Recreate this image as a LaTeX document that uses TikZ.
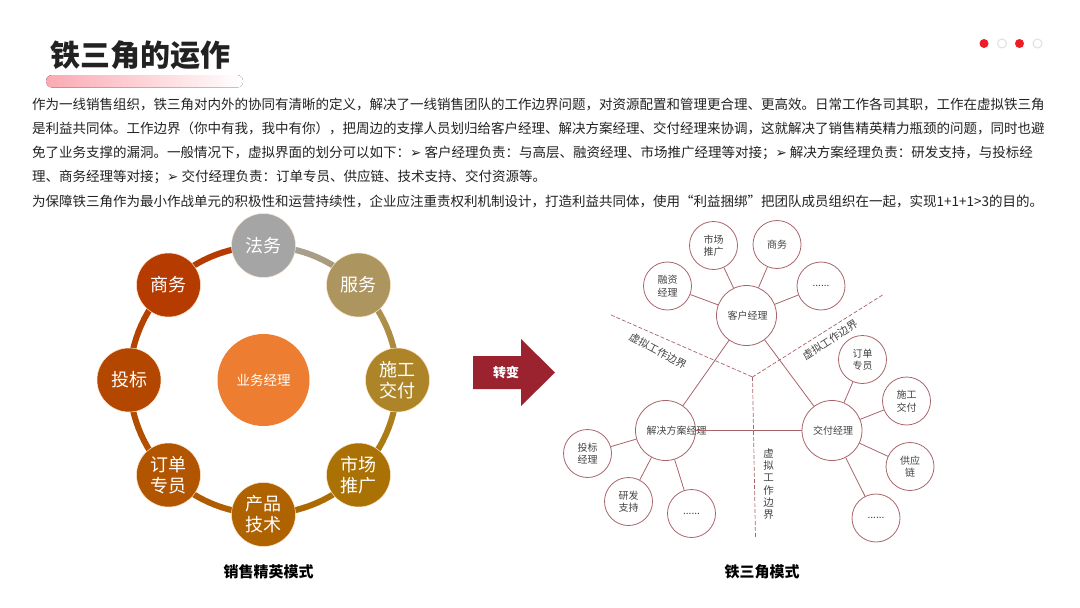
\documentclass[tikz,border=0pt]{standalone}
\usepackage{fontspec}
\setmainfont{Noto Sans CJK SC}
\newfontfamily\symfont{DejaVu Sans}
\usetikzlibrary{shapes.geometric,calc}
\definecolor{ink}{HTML}{222222}
\definecolor{line}{HTML}{A9646B}
\definecolor{redd}{HTML}{EE1C25}
\definecolor{ca}{HTML}{A5A5A5}\definecolor{cb}{HTML}{AD9560}\definecolor{cc}{HTML}{AD8528}
\definecolor{cd}{HTML}{AA7204}\definecolor{ce}{HTML}{AE6200}\definecolor{cf}{HTML}{B15500}
\definecolor{cg}{HTML}{B34700}\definecolor{ch}{HTML}{B63B00}
\definecolor{mgrc}{HTML}{ED7D31}\definecolor{arrowc}{HTML}{9B2330}\definecolor{barc}{HTML}{FBA9B2}
\tikzset{
 para/.style={anchor=west,inner sep=0pt,text=ink,font=\fontsize{13.5}{13.5}\selectfont},
 ringnode/.style={circle,minimum size=64pt,inner sep=0pt,draw=white!80!orange,line width=.5pt,text=white,align=center,font=\fontsize{18}{21}\selectfont},
 bigc/.style={circle,minimum size=60pt,inner sep=0pt,draw=line,line width=.8pt,fill=white,text=ink!85,align=center,font=\fontsize{10}{12.5}\selectfont,text width=38pt},
 smallc/.style={circle,minimum size=48pt,inner sep=0pt,draw=line,line width=.8pt,fill=white,text=ink!85,align=center,font=\fontsize{10}{12.5}\selectfont},
 conn/.style={draw=line,line width=.8pt},
 bound/.style={draw=line,line width=.7pt,dash pattern=on 4pt off 2pt},
 blabel/.style={inner sep=0pt,text=ink!85,font=\fontsize{10.5}{12.5}\selectfont},
 captext/.style={inner sep=0pt,text=black,font=\fontsize{15}{15}\selectfont\bfseries},
 dotr/.style={circle,minimum size=9pt,inner sep=0pt,fill=redd},
 doto/.style={circle,minimum size=9pt,inner sep=0pt,draw=black!12,line width=1pt,fill=white}
}
\begin{document}
\begin{tikzpicture}[x=1pt,y=-1pt]
\useasboundingbox (0,0) rectangle (1080,608);
\fill[white] (0,0) rectangle (1080,608);
% title
\fill[left color=barc,right color=white,rounded corners=6pt] (46,75) rectangle (243,87.5);
\node[inner sep=0pt,text=ink,font=\fontsize{30}{30}\selectfont\bfseries] (title) at (140.5,55) {铁三角的运作};
% dots
\node[dotr] (d1) at (984,43.5) {};
\node[doto] (d2) at (1002,43.5) {};
\node[dotr] (d3) at (1019.5,43.5) {};
\node[doto] (d4) at (1037.5,43.5) {};
% paragraph
\node[para] (l1) at (32,104) {作为一线销售组织，铁三角对内外的协同有清晰的定义，解决了一线销售团队的工作边界问题，对资源配置和管理更合理、更高效。日常工作各司其职，工作在虚拟铁三角};
\node[para] (l2) at (32,128.5) {是利益共同体。工作边界（你中有我，我中有你），把周边的支撑人员划归给客户经理、解决方案经理、交付经理来协调，这就解决了销售精英精力瓶颈的问题，同时也避};
\node[para] (l3) at (32,153) {免了业务支撑的漏洞。一般情况下，虚拟界面的划分可以如下：{\symfont ➢} 客户经理负责：与高层、融资经理、市场推广经理等对接；{\symfont ➢} 解决方案经理负责：研发支持，与投标经};
\node[para] (l4) at (32,177) {理、商务经理等对接；{\symfont ➢} 交付经理负责：订单专员、供应链、技术支持、交付资源等。};
\node[para] (l5) at (32,201.5) {为保障铁三角作为最小作战单元的积极性和运营持续性，企业应注重责权利机制设计，打造利益共同体，使用“利益捆绑”把团队成员组织在一起，实现1+1+1>3的目的。};
% ring
\foreach \a/\ca/\cb in {0/ca/cb,45/cb/cc,90/cc/cd,135/cd/ce,180/ce/cf,225/cf/cg,270/cg/ch,315/ch/ca}{
  \foreach \i in {0,...,14}{
    \pgfmathsetmacro{\st}{-90+\a+\i*3}
    \pgfmathsetmacro{\en}{\st+3.2}
    \pgfmathsetmacro{\mx}{\i*100/15}
    \ifnum\a=315 \def\mx{0}\fi
    \draw[line width=6pt,color=\cb!\mx!\ca] ({263.5+134*cos(\st)},{380+134*sin(\st)}) -- ({263.5+134*cos(\en)},{380+134*sin(\en)});
  }
}
\node[ringnode,fill=ca] (n1) at (263.5,245.5) {法务};
\node[ringnode,fill=cb] (n2) at (358.5,285) {服务};
\node[ringnode,fill=cc] (n3) at (397.5,380) {施工\\交付};
\node[ringnode,fill=cd] (n4) at (358.5,475) {市场\\推广};
\node[ringnode,fill=ce] (n5) at (263.5,514.5) {产品\\技术};
\node[ringnode,fill=cf] (n6) at (168.5,475) {订单\\专员};
\node[ringnode,fill=cg] (n7) at (129,380) {投标};
\node[ringnode,fill=ch] (n8) at (168.5,285) {商务};
\node[circle,minimum size=92pt,inner sep=0pt,fill=mgrc,text=white,font=\fontsize{13.5}{13.5}\selectfont] (mgr) at (263.5,380) {业务经理};
\node[captext] (capl) at (268.5,572) {销售精英模式};
% arrow
\fill[arrowc] (473,356) -- (521,356) -- (521,339) -- (555,372.5) -- (521,406) -- (521,389) -- (473,389) -- cycle;
\node[inner sep=0pt,text=white,font=\fontsize{13}{13}\selectfont\bfseries] (turn) at (506,372.5) {转变};
% boundaries
\coordinate (bc) at (752.5,377);
\coordinate (be1) at (611,315);
\coordinate (be2) at (882.5,295);
\coordinate (be3) at (755.5,538);
\draw[bound] (be1) -- (bc);
\draw[bound] (be2) -- (bc);
\draw[bound] (bc) -- (be3);
% connectors
\node[bigc] (kh) at (746.5,315.5) {客户经理};
\node[bigc] (jj) at (665.5,430.5) {解决方案经理};
\node[bigc] (jf) at (832,430.5) {交付经理};
\node[smallc] (a1) at (713.5,245.5) {市场\\推广};
\node[smallc] (a2) at (777,244.5) {商务};
\node[smallc] (a3) at (667.5,286) {融资\\经理};
\node[smallc] (a4) at (821,286) {......};
\node[smallc] (b1) at (587.5,453.5) {投标\\经理};
\node[smallc] (b2) at (628.5,501.5) {研发\\支持};
\node[smallc] (b3) at (691.5,513.5) {......};
\node[smallc] (c1) at (862.5,359.5) {订单\\专员};
\node[smallc] (c2) at (906.5,401) {施工\\交付};
\node[smallc] (c3) at (910,466.5) {供应\\链};
\node[smallc] (c4) at (876,518) {......};
\foreach \x/\y in {kh/jj,kh/jf,jj/jf,kh/a1,kh/a2,kh/a3,kh/a4,jj/b1,jj/b2,jj/b3,jf/c1,jf/c2,jf/c3,jf/c4}
  \draw[conn] (\x) -- (\y);
% boundary labels
\node[blabel,rotate=-28] (bl1) at (658,351) {虚拟工作边界};
\node[blabel,rotate=33] (bl2) at (830,340) {虚拟工作边界};
\node[blabel,align=center,font=\fontsize{10.5}{12.3}\selectfont] (bl3) at (768.5,484) {虚\\拟\\工\\作\\边\\界};
\node[captext] (capr) at (762,572) {铁三角模式};
\end{tikzpicture}
\end{document}
